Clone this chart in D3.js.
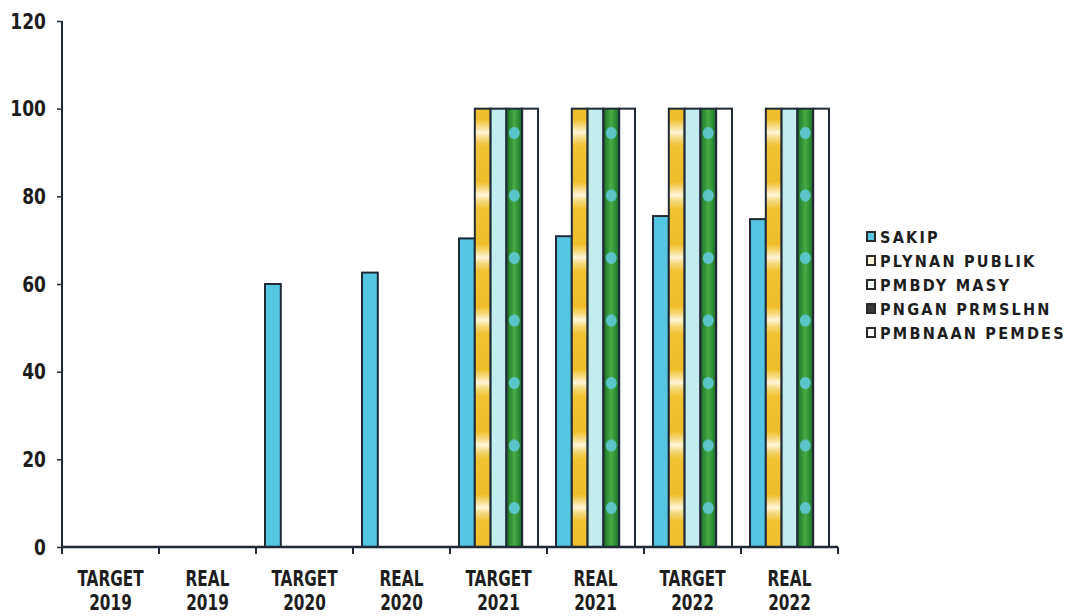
<!DOCTYPE html>
<html>
<head>
<meta charset="utf-8">
<script src="https://cdn.jsdelivr.net/npm/d3@7/dist/d3.min.js"></script>
<style>
  html, body { margin: 0; padding: 0; background: #ffffff; }
  svg { display: block; }
  .tick-label { font-family: "DejaVu Sans Condensed", "DejaVu Sans", sans-serif; font-stretch: condensed; font-weight: bold; fill: #1d1d1d; }
  .legend-label { font-family: "DejaVu Sans", sans-serif; font-weight: bold; fill: #1d1d1d; }
</style>
</head>
<body>
<svg id="chart" width="1080" height="616"></svg>
<script>
// Categories along the x axis (two-line labels: status + year)
const categories = ["TARGET 2019", "REAL 2019", "TARGET 2020", "REAL 2020",
                    "TARGET 2021", "REAL 2021", "TARGET 2022", "REAL 2022"];

// Series names, in legend order
const seriesNames = ["SAKIP", "PLYNAN PUBLIK", "PMBDY MASY", "PNGAN PRMSLHN", "PMBNAAN PEMDES"];

// Series values per category
const sakip         = [0, 0, 60, 62.6, 70.4, 70.9, 75.5, 74.8];
const plynanPublik  = [0, 0, 0, 0, 100, 100, 100, 100];
const pmbdyMasy     = [0, 0, 0, 0, 100, 100, 100, 100];
const pnganPrmslhn  = [0, 0, 0, 0, 100, 100, 100, 100];
const pmbnaanPemdes = [0, 0, 0, 0, 100, 100, 100, 100];

// Y axis ticks
const yTicks = [0, 20, 40, 60, 80, 100, 120];

const seriesValues = [sakip, plynanPublik, pmbdyMasy, pnganPrmslhn, pmbnaanPemdes];

const svg = d3.select("#chart");
const plot = { left: 62, right: 838, top: 21, bottom: 547 };
const ink = "#1f2a36";

const x = d3.scaleBand().domain(categories).range([plot.left, plot.right]).paddingInner(0).paddingOuter(0);
const x1 = d3.scaleBand().domain(seriesNames).range([0, x.bandwidth()]).paddingInner(0).paddingOuter(0.57);
const y = d3.scaleLinear().domain([0, 120]).range([plot.bottom, plot.top]);

// ---- fills ----
const defs = svg.append("defs");

// gold bars: warm yellow with pale horizontal bands
const goldPat = defs.append("pattern").attr("id", "goldBands")
  .attr("patternUnits", "userSpaceOnUse").attr("x", 0).attr("y", 120)
  .attr("width", 40).attr("height", 62.5);
const goldGrad = defs.append("linearGradient").attr("id", "goldBand")
  .attr("x1", 0).attr("y1", 0).attr("x2", 0).attr("y2", 1);
goldGrad.append("stop").attr("offset", "0%").attr("stop-color", "#f1c233");
goldGrad.append("stop").attr("offset", "10%").attr("stop-color", "#f6da80");
goldGrad.append("stop").attr("offset", "20%").attr("stop-color", "#fdf6d8");
goldGrad.append("stop").attr("offset", "30%").attr("stop-color", "#f5d878");
goldGrad.append("stop").attr("offset", "42%").attr("stop-color", "#f1c233");
goldGrad.append("stop").attr("offset", "100%").attr("stop-color", "#efbd2c");
goldPat.append("rect").attr("width", 40).attr("height", 62.5).attr("fill", "url(#goldBand)");

// green bars: darker edges, lighter centre
const greenGrad = defs.append("linearGradient").attr("id", "greenShade")
  .attr("x1", 0).attr("y1", 0).attr("x2", 1).attr("y2", 0);
greenGrad.append("stop").attr("offset", "0%").attr("stop-color", "#1d6a2a");
greenGrad.append("stop").attr("offset", "25%").attr("stop-color", "#2f8f36");
greenGrad.append("stop").attr("offset", "50%").attr("stop-color", "#4aab45");
greenGrad.append("stop").attr("offset", "75%").attr("stop-color", "#2f8f36");
greenGrad.append("stop").attr("offset", "100%").attr("stop-color", "#1d6a2a");

// cyan specks on the green bars (pattern space is the category group's space)
const greenCentre = x1("PNGAN PRMSLHN") + x1.bandwidth() / 2;
const speckPat = defs.append("pattern").attr("id", "greenSpecks")
  .attr("patternUnits", "userSpaceOnUse").attr("x", 0).attr("y", 120)
  .attr("width", x.bandwidth()).attr("height", 62.5);
speckPat.append("ellipse").attr("cx", greenCentre).attr("cy", 13).attr("rx", 5.5).attr("ry", 6)
  .attr("fill", "#5ec9d6").attr("opacity", 0.9);

const fills = ["#55c6e2", "url(#goldBands)", "#c3ecef", "url(#greenShade)", "#ffffff"];
const legendFills = ["#55c6e2", "#fdf6dc", "#f4fbfb", "#3a3a3a", "#ffffff"];

// ---- bars ----
const rows = categories.map((c, i) => ({
  category: c,
  bars: seriesNames.map((s, k) => ({ series: s, k, value: seriesValues[k][i] }))
}));

const groups = svg.append("g").selectAll("g.cat").data(rows).join("g")
  .attr("class", "cat")
  .attr("transform", d => `translate(${x(d.category)},0)`);

groups.selectAll("rect.bar").data(d => d.bars.filter(b => b.value > 0)).join("rect")
  .attr("class", "bar")
  .attr("x", b => x1(b.series))
  .attr("width", x1.bandwidth())
  .attr("y", b => y(b.value))
  .attr("height", b => y(0) - y(b.value))
  .attr("fill", b => fills[b.k])
  .attr("stroke", ink).attr("stroke-width", 2);

// specks drawn over the green bars
groups.selectAll("rect.speck").data(d => d.bars.filter(b => b.k === 3 && b.value > 0)).join("rect")
  .attr("class", "speck")
  .attr("x", b => x1(b.series) + 2)
  .attr("width", x1.bandwidth() - 4)
  .attr("y", b => y(b.value) + 1)
  .attr("height", b => y(0) - y(b.value) - 2)
  .attr("fill", "url(#greenSpecks)");

// ---- axes ----
const yAxis = svg.append("g").attr("transform", `translate(${plot.left},0)`)
  .call(d3.axisLeft(y).tickValues(yTicks).tickSize(5).tickPadding(0).tickFormat(d3.format("d")));
yAxis.select(".domain").attr("stroke", ink).attr("stroke-width", 2).attr("d", `M0,${plot.top}V${plot.bottom}`);
yAxis.selectAll(".tick line").attr("stroke", ink).attr("stroke-width", 1.5);
yAxis.selectAll(".tick text").remove();
yAxis.selectAll(".tick").append("text")
  .attr("class", "tick-label")
  .attr("text-anchor", "end")
  .attr("font-size", 19)
  .attr("transform", "translate(-16,7) scale(1,1.12)")
  .text(d => d);

// x axis baseline with tick marks at category boundaries
const xAxis = svg.append("g");
xAxis.append("line")
  .attr("x1", plot.left).attr("x2", plot.right)
  .attr("y1", y(0)).attr("y2", y(0))
  .attr("stroke", ink).attr("stroke-width", 2.5);
const boundaries = categories.map(c => x(c)).concat([x.range()[1]]);
xAxis.selectAll("line.btick").data(boundaries).join("line")
  .attr("class", "btick")
  .attr("x1", d => d).attr("x2", d => d)
  .attr("y1", y(0)).attr("y2", y(0) + 7)
  .attr("stroke", ink).attr("stroke-width", 2);

// category labels: status line and year line as separate texts
[0, 1].forEach(line => {
  xAxis.selectAll(`text.xl${line}`).data(categories).join("text")
    .attr("class", `tick-label xl${line}`)
    .attr("text-anchor", "middle")
    .attr("font-size", 17)
    .attr("transform", c => `translate(${x(c) + x.bandwidth() / 2},${line === 0 ? 586 : 610}) scale(1,1.2)`)
    .text(c => c.split(" ")[line]);
});

// ---- legend ----
const legend = svg.append("g").attr("transform", "translate(867,237)");
const items = legend.selectAll("g").data(seriesNames).join("g")
  .attr("transform", (d, i) => `translate(0,${i * 24})`);
items.append("rect")
  .attr("x", 0).attr("y", -5).attr("width", 8).attr("height", 9)
  .attr("fill", (d, i) => legendFills[i])
  .attr("stroke", "#2a2a2a").attr("stroke-width", 2);
items.append("text")
  .attr("class", "legend-label")
  .attr("font-size", 14.5)
  .attr("letter-spacing", 2.2)
  .attr("transform", "translate(13,5.5) scale(1,1.12)")
  .text(d => d);
</script>
</body>
</html>
